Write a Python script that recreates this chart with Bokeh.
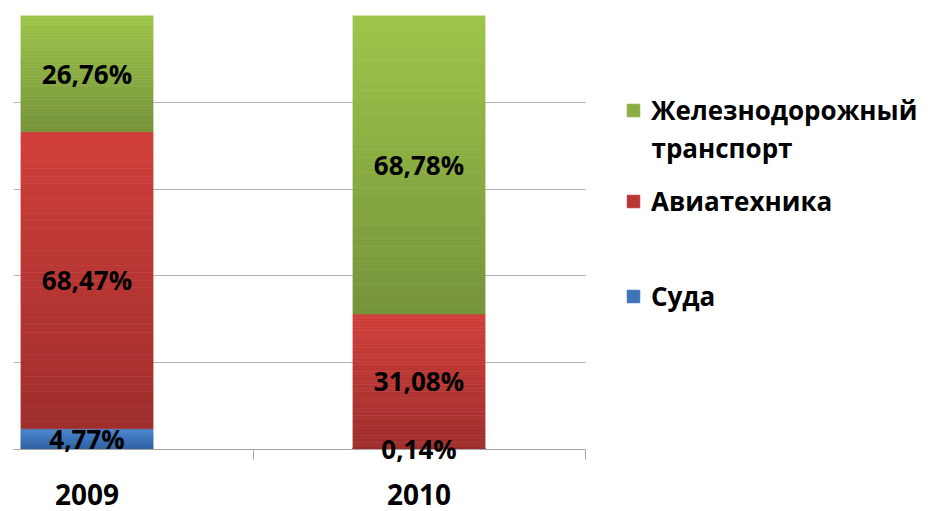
import numpy as np
from bokeh.plotting import figure
from bokeh.models import ColumnDataSource, Range1d, FixedTicker, Legend, LegendItem, Label
from bokeh.core.properties import value
from bokeh.embed import file_html
from bokeh.resources import INLINE

# ---- data ----
years = ["2009", "2010"]
series_names = ["Суда", "Авиатехника", "Железнодорожный"]
rail_name_line2 = "транспорт"
suda = [4.77, 0.14]
avia = [68.47, 31.08]
rail = [26.76, 68.78]
grid_ticks = [0, 20, 40, 60, 80, 100]

# ---- styles / layout ----
FONT = "Open Sans"
# (bottom colour, top colour) for the vertical gradient of each series
series_colors = [("#2f5f9e", "#4a86d0"), ("#9e2e2c", "#d13f3b"), ("#76933a", "#9dc54a")]
N_STRIPS = 40
BAR_W = 0.398
X_START, X_PLOT_END, X_END = -0.2214, 1.5, 2.5376

x_pos = list(range(len(years)))

p = figure(width=929, height=511, output_backend="svg", toolbar_location=None,
           x_range=Range1d(X_START, X_END), y_range=Range1d(0, 100),
           y_axis_location=None, min_border_left=13, min_border_right=0,
           min_border_top=15, min_border_bottom=62)
p.outline_line_color = None
p.xgrid.visible = False
p.ygrid.ticker = FixedTicker(ticks=grid_ticks)
p.ygrid.grid_line_color = "#b4b4b4"
p.ygrid.grid_line_width = 1
try:
    p.ygrid.cross_bounds = (X_START, X_PLOT_END)
except Exception:
    p.ygrid.visible = False
    p.segment(x0=X_START, x1=X_PLOT_END, y0=grid_ticks, y1=grid_ticks,
              line_color="#b4b4b4", line_width=1, level="underlay")

ax = p.xaxis[0]
ax.bounds = (X_START, X_PLOT_END)
ax.ticker = FixedTicker(ticks=x_pos, minor_ticks=[0.5, 1.5])
ax.major_label_overrides = {i: y for i, y in zip(x_pos, years)}
ax.major_tick_out = 0
ax.major_tick_in = 0
ax.minor_tick_out = 10
ax.minor_tick_in = 0
ax.minor_tick_line_color = "#a6a6a6"
ax.axis_line_color = "#a6a6a6"
ax.major_label_text_font = FONT
ax.major_label_text_font_style = "bold"
ax.major_label_text_font_size = "28px"
ax.major_label_text_color = "black"
ax.major_label_standoff = 24


def hex2rgb(h):
    return np.array([int(h[i:i + 2], 16) for i in (1, 3, 5)], dtype=float)


def rgb2hex(c):
    return "#%02x%02x%02x" % tuple(int(round(v)) for v in c)


base = np.zeros(len(years))
renderers = []
lab_x, lab_y, lab_t = [], [], []
for vals, (c_lo, c_hi) in zip([suda, avia, rail], series_colors):
    vals = np.array(vals, dtype=float)
    bottom = base.copy()
    top = base + vals
    lo, hi = hex2rgb(c_lo), hex2rgb(c_hi)
    L, R, B, T, C = [], [], [], [], []
    for i, xp in enumerate(x_pos):
        for k in range(N_STRIPS):
            B.append(bottom[i] + (top[i] - bottom[i]) * k / N_STRIPS)
            T.append(bottom[i] + (top[i] - bottom[i]) * (k + 1) / N_STRIPS)
            L.append(xp - BAR_W / 2)
            R.append(xp + BAR_W / 2)
            C.append(rgb2hex(lo + (hi - lo) * (k + 0.5) / N_STRIPS))
    src = ColumnDataSource(dict(left=L, right=R, bottom=B, top=T, color=C))
    r = p.quad(left="left", right="right", bottom="bottom", top="top", source=src,
               fill_color="color", line_color="color", line_width=0.6)
    renderers.append(r)
    for i, xp in enumerate(x_pos):
        lab_x.append(xp)
        lab_y.append((bottom[i] + top[i]) / 2)
        lab_t.append(("%.2f" % vals[i]).replace(".", ",") + "%")
    base = top

lbl = p.text(x="x", y="y", text="t", source=ColumnDataSource(dict(x=lab_x, y=lab_y, t=lab_t)),
             text_font=value(FONT), text_font_style="bold", text_font_size="26px",
             text_align="center", text_baseline="middle", text_color="black")
lbl.level = "overlay"

# legend: one Legend per entry, placed right of the bars (frame-relative px)
legend_locs = [(612, 135), (612, 230), (612, 321)]
for name, r, loc in zip(series_names, renderers, legend_locs):
    leg = Legend(items=[LegendItem(label=value(name), renderers=[r], index=N_STRIPS // 2)],
                 location=loc, padding=0, margin=0, spacing=0,
                 border_line_color=None, background_fill_alpha=0,
                 glyph_width=16, glyph_height=16, label_standoff=10,
                 label_text_font=FONT, label_text_font_style="bold",
                 label_text_font_size="26px", label_text_color="black",
                 label_text_line_height=1.6)
    p.add_layout(leg)

p.add_layout(Label(x=638, y=302, x_units="screen", y_units="screen", text=rail_name_line2,
                   text_font=FONT, text_font_style="bold", text_font_size="26px",
                   text_color="black", text_align="left", text_baseline="middle"))

open("out.html", "w").write(file_html(p, INLINE))
